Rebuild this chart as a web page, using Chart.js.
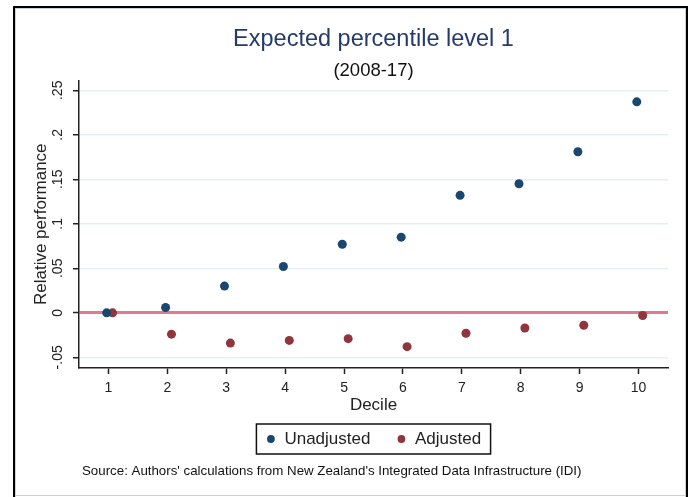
<!DOCTYPE html>
<html>
<head>
<meta charset="utf-8">
<script src="https://cdn.jsdelivr.net/npm/chart.js@4.4.1/dist/chart.umd.min.js"></script>
<style>
  html, body { margin: 0; padding: 0; background: #fff; }
  #wrap { width: 692px; height: 497px; }
</style>
</head>
<body>
<div id="wrap"><canvas id="chart" width="692" height="497"></canvas></div>
<script>
    // data
    const deciles = [1, 2, 3, 4, 5, 6, 7, 8, 9, 10];
    const unadjusted = [0, 0.006, 0.030, 0.052, 0.077, 0.085, 0.132, 0.145, 0.181, 0.237];
    const adjusted = [0, -0.024, -0.034, -0.031, -0.029, -0.038, -0.023, -0.017, -0.014, -0.003];
    const yTicks = [-0.05, 0, 0.05, 0.1, 0.15, 0.2, 0.25];
    const seriesNames = ['Unadjusted', 'Adjusted'];
    const titleText = 'Expected percentile level 1';
    const subtitleText = '(2008-17)';
    const sourceText = "Source: Authors' calculations from New Zealand's Integrated Data Infrastructure (IDI)";

    const FONT = "'Liberation Sans', Arial, sans-serif";
    const blue = '#1a476f';
    const red = '#90353b';
    const zeroLine = '#df7a8f';
    const gridColor = '#e6eff1';
    const ink = '#222';

    Chart.defaults.font.family = FONT;

    // stata style: ".25", "-.05", "0"
    function fmtTick(v) {
        if (v === 0) return '0';
        return String(v).replace('0.', '.');
    }

    // outer frame, legend border and source note
    const framePlugin = {
        id: 'frame',
        beforeDraw(chart) {
            const ctx = chart.ctx;
            ctx.save();
            ctx.fillStyle = '#fff';
            ctx.fillRect(0, 0, chart.width, chart.height);
            ctx.fillStyle = '#c9d4d8';
            ctx.fillRect(15, 8, 671, 1);
            ctx.fillRect(15, 8, 1, 489);
            ctx.fillRect(685, 8, 1, 489);
            ctx.fillRect(15, 495, 671, 1);
            ctx.fillStyle = '#000';
            ctx.fillRect(13, 6, 675, 2);
            ctx.fillRect(13, 6, 2, 491);
            ctx.fillRect(686, 6, 2, 491);
            ctx.restore();
        },
        afterDraw(chart) {
            const ctx = chart.ctx;
            const boxes = chart.legend.legendHitBoxes;
            const l = Math.min(...boxes.map(b => b.left));
            const r = Math.max(...boxes.map(b => b.left + b.width));
            const t = Math.min(...boxes.map(b => b.top));
            const btm = Math.max(...boxes.map(b => b.top + b.height));
            ctx.save();
            ctx.strokeStyle = '#111';
            ctx.lineWidth = 1.5;
            ctx.strokeRect(l - 9.5, t - 6.5, r - l + 19, btm - t + 13);
            ctx.fillStyle = '#111';
            ctx.font = '13.3px ' + FONT;
            ctx.textBaseline = 'middle';
            ctx.textAlign = 'left';
            ctx.fillText(sourceText, 82, 471);
            ctx.restore();
        }
    };

    const ctx = document.getElementById('chart');
    const chart = new Chart(ctx.getContext('2d'), {
        type: 'scatter',
        data: {
            datasets: [
                {
                    label: seriesNames[0],
                    data: deciles.map((d, i) => ({ x: d - 0.03, y: unadjusted[i] })),
                    backgroundColor: blue,
                    borderColor: blue,
                    pointRadius: 4.5,
                    pointBorderWidth: 0,
                    pointStyle: 'circle'
                },
                {
                    label: seriesNames[1],
                    data: deciles.map((d, i) => ({ x: d + 0.07, y: adjusted[i] })),
                    backgroundColor: red,
                    borderColor: red,
                    pointRadius: 4.5,
                    pointBorderWidth: 0,
                    pointStyle: 'circle'
                }
            ]
        },
        options: {
            responsive: false,
            animation: false,
            layout: { padding: { top: 8, left: 16, right: 24, bottom: 39.5 } },
            scales: {
                x: {
                    type: 'linear',
                    min: 0.5,
                    max: 10.5,
                    afterBuildTicks: s => { s.ticks = deciles.map(v => ({ value: v })); },
                    afterFit: s => { s.height = 36.5; s.paddingLeft = 0; s.paddingRight = 0; },
                    ticks: {
                        color: ink,
                        font: { size: 14 },
                        padding: 6,
                        autoSkip: false,
                        maxRotation: 0,
                        callback: v => String(v)
                    },
                    grid: {
                        drawOnChartArea: false,
                        drawTicks: true,
                        tickLength: 6,
                        tickColor: ink,
                        tickWidth: 1.5
                    },
                    border: { color: ink, width: 1.5 },
                    title: {
                        display: true,
                        text: 'Decile',
                        color: ink,
                        font: { size: 17, lineHeight: 1 },
                        padding: { top: 0, bottom: -9 }
                    }
                },
                y: {
                    min: -0.062,
                    max: 0.261,
                    afterBuildTicks: s => { s.ticks = yTicks.map(v => ({ value: v })); },
                    afterFit: s => { s.width = 63; s.paddingTop = 0; s.paddingBottom = 0; },
                    ticks: {
                        color: ink,
                        font: { size: 14 },
                        padding: 3,
                        minRotation: 90,
                        maxRotation: 90,
                        crossAlign: 'center',
                        autoSkip: false,
                        callback: v => fmtTick(v)
                    },
                    grid: {
                        color: c => (c.tick && c.tick.value === 0 ? zeroLine : gridColor),
                        lineWidth: c => (c.tick && c.tick.value === 0 ? 3 : 1.5),
                        drawTicks: true,
                        tickLength: 6,
                        tickColor: ink,
                        tickWidth: 1.5
                    },
                    border: { color: ink, width: 1.5 },
                    title: {
                        display: true,
                        text: 'Relative performance',
                        color: ink,
                        font: { size: 17, lineHeight: 1.2 },
                        padding: { top: 15, bottom: 0 }
                    }
                }
            },
            plugins: {
                title: {
                    display: true,
                    text: titleText,
                    color: '#243a6a',
                    fullSize: false,
                    font: { size: 23.5, weight: 'normal', lineHeight: 1 },
                    padding: { top: 20.25, bottom: 0 }
                },
                subtitle: {
                    display: true,
                    text: subtitleText,
                    color: '#111',
                    fullSize: false,
                    font: { size: 18.5, weight: 'normal', lineHeight: 1 },
                    padding: { top: 10.25, bottom: 0 }
                },
                legend: {
                    display: true,
                    position: 'bottom',
                    fullSize: false,
                    labels: {
                        usePointStyle: true,
                        boxWidth: 10,
                        boxHeight: 5.5,
                        padding: 26,
                        color: ink,
                        font: { size: 17 }
                    }
                },
                tooltip: { enabled: false }
            }
        },
        plugins: [framePlugin]
    });
</script>
</body>
</html>
